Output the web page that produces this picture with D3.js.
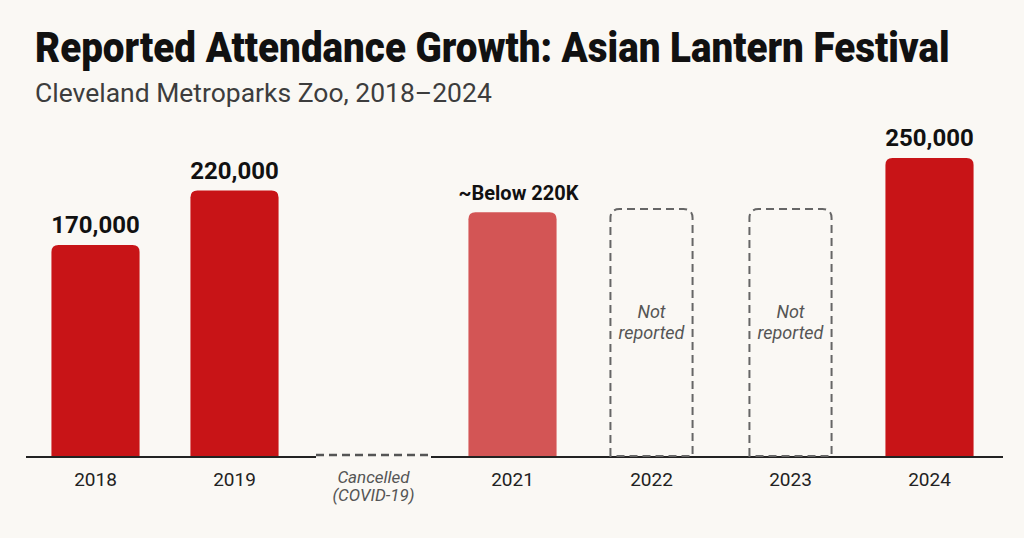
<!DOCTYPE html>
<html>
<head>
<meta charset="utf-8">
<script src="https://cdn.jsdelivr.net/npm/d3@7"></script>
<style>
    html, body { margin: 0; padding: 0; background: #faf8f4; }
    svg { display: block; font-family: Roboto, "Noto Sans", sans-serif; }
</style>
</head>
<body>
<svg id="chart" width="1024" height="538"></svg>
<script>
// Chart values
const years = ["2018", "2019", "2020", "2021", "2022", "2023", "2024"];
const attendance = [170000, 220000, null, 200000, null, null, 250000];
const valueLabels = ["170,000", "220,000", "", "~Below 220K", "", "", "250,000"];
const status = ["reported", "reported", "cancelled", "estimate", "missing", "missing", "reported"];
const cancelledLabel = ["Cancelled", "(COVID-19)"];
const missingNote = ["Not", "reported"];
const placeholderValue = 203000; // height of the dashed "not reported" boxes

const width = 1024, height = 538;
const svg = d3.select("#chart");

svg.append("rect").attr("width", width).attr("height", height).attr("fill", "#faf8f4");

// stretch/squeeze a text horizontally to a target width
function fitWidth(sel, x0, y0, target) {
    const w = sel.node().getComputedTextLength();
    sel.attr("transform", `translate(${x0},${y0}) scale(${target / w},1)`);
}

// Title + subtitle
const title = svg.append("text")
    .attr("font-size", 43).attr("font-weight", 900)
    .attr("fill", "#111")
    .text("Reported Attendance Growth: Asian Lantern Festival");
fitWidth(title, 35, 62, 915);

const subtitle = svg.append("text")
    .attr("font-size", 26).attr("fill", "#3d3d3d")
    .text("Cleveland Metroparks Zoo, 2018\u20132024");
fitWidth(subtitle, 35, 102, 457);

// Scales
const x = d3.scaleBand()
    .domain(years)
    .range([26, 999])
    .paddingInner(0.366)
    .paddingOuter(0.183);

const y = d3.scaleLinear()
    .domain([-25000, 250000])
    .range([457, 158]);

const baseY = y(-25000);

// top-rounded bar path
function topRounded(x0, y0, w, h, r) {
    return `M${x0},${y0 + h} V${y0 + r} Q${x0},${y0} ${x0 + r},${y0}` +
        ` H${x0 + w - r} Q${x0 + w},${y0} ${x0 + w},${y0 + r} V${y0 + h} Z`;
}

const rows = years.map((yr, i) => ({year: yr, value: attendance[i], label: valueLabels[i], status: status[i]}));

// Bars
svg.append("g")
    .selectAll("path")
    .data(rows.filter(d => d.value != null))
    .join("path")
    .attr("d", d => topRounded(x(d.year), y(d.value), x.bandwidth(), baseY - y(d.value), 7))
    .attr("fill", d => d.status === "estimate" ? "#d35555" : "#c81417");

// Value labels
svg.append("g")
    .selectAll("text")
    .data(rows.filter(d => d.value != null))
    .join("text")
    .attr("x", d => x(d.year) + x.bandwidth() / 2 + (d.status === "estimate" ? 6 : 0))
    .attr("y", d => y(d.value) - 12)
    .attr("text-anchor", "middle")
    .attr("font-size", d => d.status === "estimate" ? 20 : 24)
    .attr("font-weight", 700)
    .attr("fill", "#111")
    .text(d => d.label);

// Axis line
svg.append("line")
    .attr("x1", 26).attr("x2", 1003)
    .attr("y1", baseY).attr("y2", baseY)
    .attr("stroke", "#222").attr("stroke-width", 2);

// Dashed "not reported" boxes
const missing = rows.filter(d => d.status === "missing");
const inset = 3;
svg.append("g")
    .selectAll("path")
    .data(missing)
    .join("path")
    .attr("d", d => topRounded(x(d.year) + inset, y(placeholderValue), x.bandwidth() - 2 * inset,
        baseY - 1 - y(placeholderValue), 9))
    .attr("fill", "none")
    .attr("stroke", "#666")
    .attr("stroke-width", 2)
    .attr("stroke-dasharray", "8,5");

const notes = svg.append("g")
    .selectAll("text")
    .data(missing)
    .join("text")
    .attr("text-anchor", "middle")
    .attr("font-size", 18).attr("font-style", "italic")
    .attr("fill", "#555");
notes.each(function (d) {
    d3.select(this).selectAll("tspan")
        .data(missingNote)
        .join("tspan")
        .attr("x", x(d.year) + x.bandwidth() / 2)
        .attr("y", (_l, i) => 318 + i * 21)
        .text(l => l);
});

// Cancelled year: gap in axis with dashed line
const cancelled = rows.filter(d => d.status === "cancelled");
const cx0 = d => x(d.year) - (x.step() - x.bandwidth()) / 2 + 12;
const cx1 = d => x(d.year) + x.bandwidth() + (x.step() - x.bandwidth()) / 2 - 12;
svg.append("g")
    .selectAll("rect")
    .data(cancelled)
    .join("rect")
    .attr("x", cx0).attr("width", d => cx1(d) - cx0(d))
    .attr("y", baseY - 1.5).attr("height", 3)
    .attr("fill", "#faf8f4");
svg.append("g")
    .selectAll("line")
    .data(cancelled)
    .join("line")
    .attr("x1", cx0).attr("x2", cx1)
    .attr("y1", baseY - 2).attr("y2", baseY - 2)
    .attr("stroke", "#555").attr("stroke-width", 2.5)
    .attr("stroke-dasharray", "8,5");

// Tick labels
const ticks = svg.append("g")
    .selectAll("text")
    .data(rows)
    .join("text")
    .attr("text-anchor", "middle")
    .attr("fill", d => d.status === "cancelled" ? "#555" : "#222")
    .attr("font-size", d => d.status === "cancelled" ? 17 : 19)
    .attr("font-style", d => d.status === "cancelled" ? "italic" : null);
ticks.each(function (d) {
    const lines = d.status === "cancelled" ? cancelledLabel : [d.year];
    d3.select(this).selectAll("tspan")
        .data(lines)
        .join("tspan")
        .attr("x", x(d.year) + x.bandwidth() / 2)
        .attr("y", (_l, i) => (d.status === "cancelled" ? 483 : 486) + i * 18)
        .text(l => l);
});
</script>
</body>
</html>
